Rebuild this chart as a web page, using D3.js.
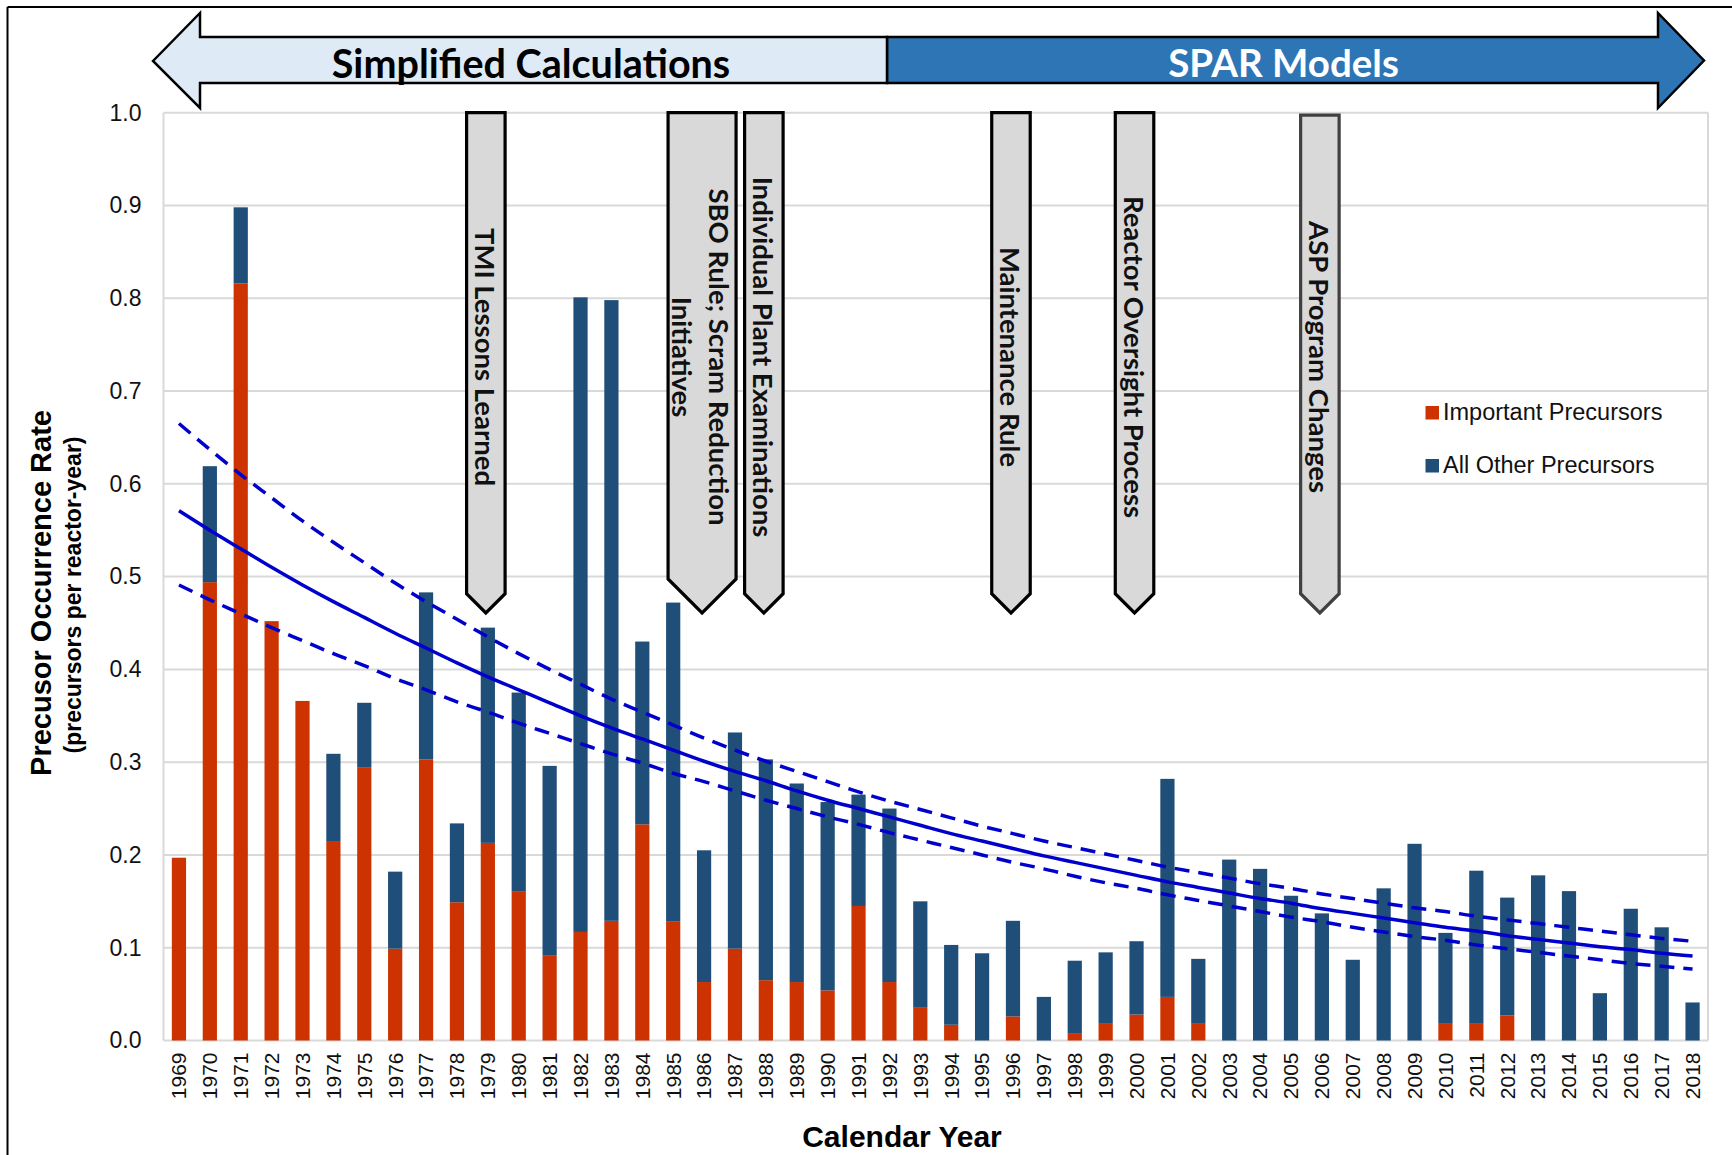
<!DOCTYPE html>
<html><head><meta charset="utf-8">
<script src="https://cdn.jsdelivr.net/npm/d3@7"></script>
<style>body{margin:0;background:#fff} svg{display:block}</style>
</head><body><svg id="chart" width="1732" height="1155"></svg>
<script>
// ---------------- data ----------------
const years = [1969,1970,1971,1972,1973,1974,1975,1976,1977,1978,1979,1980,1981,1982,1983,1984,1985,1986,1987,1988,1989,1990,1991,1992,1993,1994,1995,1996,1997,1998,1999,2000,2001,2002,2003,2004,2005,2006,2007,2008,2009,2010,2011,2012,2013,2014,2015,2016,2017,2018];
const importantPrecursors = [0.197,0.494,0.816,0.452,0.366,0.215,0.294,0.099,0.303,0.149,0.213,0.161,0.092,0.117,0.129,0.233,0.128,0.063,0.099,0.065,0.063,0.054,0.145,0.063,0.036,0.017,0,0.026,0,0.008,0.018,0.028,0.047,0.018,0,0,0,0,0,0,0,0.018,0.018,0.027,0,0,0,0,0,0];
const otherPrecursors = [0,0.125,0.082,0,0,0.094,0.070,0.083,0.180,0.085,0.232,0.214,0.204,0.684,0.669,0.197,0.344,0.142,0.233,0.238,0.214,0.203,0.120,0.187,0.114,0.086,0.094,0.103,0.047,0.078,0.077,0.079,0.235,0.070,0.195,0.185,0.156,0.137,0.087,0.164,0.212,0.098,0.165,0.127,0.178,0.161,0.051,0.142,0.122,0.041];
const trendFit = [0.571,0.550,0.530,0.510,0.491,0.473,0.456,0.439,0.423,0.407,0.392,0.378,0.364,0.350,0.337,0.325,0.313,0.301,0.290,0.280,0.269,0.259,0.250,0.241,0.232,0.223,0.215,0.207,0.199,0.192,0.185,0.178,0.171,0.165,0.159,0.153,0.148,0.142,0.137,0.132,0.127,0.122,0.118,0.113,0.109,0.105,0.101,0.098,0.094,0.091];
const trendUpper = [0.665,0.637,0.610,0.585,0.560,0.537,0.515,0.493,0.473,0.454,0.435,0.417,0.400,0.384,0.368,0.354,0.340,0.326,0.313,0.301,0.290,0.279,0.268,0.258,0.249,0.240,0.231,0.223,0.215,0.208,0.201,0.194,0.187,0.181,0.175,0.169,0.164,0.158,0.153,0.148,0.143,0.139,0.134,0.130,0.126,0.122,0.118,0.114,0.110,0.107];
const trendLower = [0.491,0.475,0.460,0.445,0.431,0.417,0.404,0.390,0.378,0.365,0.354,0.342,0.331,0.320,0.309,0.299,0.288,0.279,0.269,0.259,0.250,0.241,0.233,0.224,0.216,0.208,0.200,0.192,0.185,0.177,0.170,0.164,0.157,0.151,0.145,0.139,0.133,0.128,0.122,0.117,0.112,0.108,0.103,0.099,0.095,0.091,0.087,0.083,0.080,0.077];
const yTicks = [0,0.1,0.2,0.3,0.4,0.5,0.6,0.7,0.8,0.9,1.0];
const seriesNames = ["Important Precursors","All Other Precursors"];
const eventYears = [1979,1986,1988,1996,2000,2006];
const eventLabels = [["TMI Lessons Learned"],["SBO Rule; Scram Reduction","Initiatives"],["Individual Plant Examinations"],["Maintenance Rule"],["Reactor Oversight Process"],["ASP Program Changes"]];
const eraLabels = ["Simplified Calculations","SPAR Models"];

// ---------------- layout / style ----------------
const ARIAL = "'Liberation Sans', Arial, sans-serif";
const CAL = "Lato, 'Open Sans', sans-serif";
const colImp = "#cc3300", colOther = "#1f4e79", colTrend = "#0000cc", colGrid = "#d9d9d9";
const m = {left:163.5, right:1708, top:112.7, bottom:1040.5};
const svg = d3.select("#chart");

// frame
svg.append("line").attr("x1",7.5).attr("x2",1732).attr("y1",7).attr("y2",7).attr("stroke","#000").attr("stroke-width",2);
svg.append("line").attr("x1",7.5).attr("x2",7.5).attr("y1",7).attr("y2",1155).attr("stroke","#000").attr("stroke-width",2);

const x = d3.scaleBand().domain(years).range([m.left,m.right]).paddingInner(0.54).paddingOuter(0.27);
const y = d3.scaleLinear().domain([0,1]).range([m.bottom,m.top]);
const cx = yr => x(yr) + x.bandwidth()/2;

// grid
svg.append("g").selectAll("line").data(yTicks).join("line")
  .attr("x1",m.left).attr("x2",m.right).attr("y1",d=>y(d)).attr("y2",d=>y(d))
  .attr("stroke",colGrid).attr("stroke-width",2);
svg.append("line").attr("x1",m.left).attr("x2",m.left).attr("y1",m.top).attr("y2",m.bottom).attr("stroke",colGrid).attr("stroke-width",2);
svg.append("line").attr("x1",m.right).attr("x2",m.right).attr("y1",m.top).attr("y2",m.bottom).attr("stroke",colGrid).attr("stroke-width",2);

// y axis
const ya = svg.append("g").attr("transform",`translate(${m.left},0)`)
  .call(d3.axisLeft(y).tickValues(yTicks).tickFormat(d3.format(".1f")).tickSize(0).tickPadding(22));
ya.select(".domain").remove();
ya.selectAll("text").attr("font-family",ARIAL).attr("font-size",23).attr("fill","#111");

// x axis
const xa = svg.append("g").attr("transform",`translate(0,${m.bottom})`)
  .call(d3.axisBottom(x).tickSize(0).tickPadding(0));
xa.select(".domain").remove();
xa.selectAll("text").attr("font-family",ARIAL).attr("font-size",21).attr("fill","#111")
  .attr("transform","rotate(-90)").attr("text-anchor","end").attr("x",-12).attr("y",0).attr("dy","0.35em");

// bars
const rows = years.map((yr,i)=>({yr, imp:importantPrecursors[i], oth:otherPrecursors[i]}));
const gb = svg.append("g");
gb.selectAll("rect.imp").data(rows.filter(d=>d.imp>0)).join("rect").attr("class","imp")
  .attr("x",d=>x(d.yr)).attr("width",x.bandwidth())
  .attr("y",d=>y(d.imp)).attr("height",d=>y(0)-y(d.imp)).attr("fill",colImp);
gb.selectAll("rect.oth").data(rows.filter(d=>d.oth>0)).join("rect").attr("class","oth")
  .attr("x",d=>x(d.yr)).attr("width",x.bandwidth())
  .attr("y",d=>y(d.imp+d.oth)).attr("height",d=>y(d.imp)-y(d.imp+d.oth)).attr("fill",colOther);

// trend lines
const line = d3.line().x((d,i)=>cx(years[i])).y(d=>y(d)).curve(d3.curveMonotoneX);
svg.append("path").attr("d",line(trendUpper)).attr("fill","none").attr("stroke",colTrend).attr("stroke-width",3.5).attr("stroke-dasharray","15 9");
svg.append("path").attr("d",line(trendLower)).attr("fill","none").attr("stroke",colTrend).attr("stroke-width",3.5).attr("stroke-dasharray","15 9");
svg.append("path").attr("d",line(trendFit)).attr("fill","none").attr("stroke",colTrend).attr("stroke-width",3.5);

// event callouts
const tipY = 613, topY = m.top;
eventYears.forEach((yr,i)=>{
  const lines = eventLabels[i];
  const w = 38.5 + (lines.length-1)*29.5;
  const c = cx(yr) - 2;
  const last = i === eventYears.length-1;
  const t = last ? topY+2.5 : topY;
  const pts = [[c-w/2,t],[c+w/2,t],[c+w/2,tipY-w/2],[c,tipY],[c-w/2,tipY-w/2]];
  svg.append("polygon").attr("points",pts.map(p=>p.join(",")).join(" "))
    .attr("fill","#d9d9d9").attr("stroke", last ? "#404040" : "#000").attr("stroke-width",3.2).attr("stroke-linejoin","miter");
  const n = lines.length;
  lines.forEach((s,j)=>{
    const off = (n===1) ? 0 : (j===0 ? 17.5 : -19.5);
    svg.append("text").attr("transform",`translate(${c+off},357) rotate(90)`)
      .attr("text-anchor","middle").attr("dominant-baseline","central")
      .attr("font-family",CAL).attr("font-weight","bold").attr("font-size",27.5).attr("fill","#111").text(s);
  });
});

// era arrows
svg.append("polygon").attr("points","887,37 1658,37 1658,13 1704,60.5 1658,108 1658,83 887,83")
  .attr("fill","#2e75b6").attr("stroke","#000").attr("stroke-width",2.5);
svg.append("polygon").attr("points","153,61 200,13 200,37 887,37 887,83 200,83 200,108")
  .attr("fill","#deebf7").attr("stroke","#000").attr("stroke-width",2.5);
svg.append("text").attr("x",531).attr("y",62).attr("text-anchor","middle").attr("dominant-baseline","central")
  .attr("font-family",CAL).attr("font-weight","bold").attr("font-size",39.5).attr("fill","#000").text(eraLabels[0]);
svg.append("text").attr("x",1283.5).attr("y",62).attr("text-anchor","middle").attr("dominant-baseline","central")
  .attr("font-family",CAL).attr("font-weight","bold").attr("font-size",38.5).attr("fill","#fff").text(eraLabels[1]);

// legend
const lg = svg.append("g");
[colImp,colOther].forEach((col,i)=>{
  lg.append("rect").attr("x",1425.5).attr("y",406+i*53).attr("width",13.5).attr("height",13.5).attr("fill",col);
  lg.append("text").attr("x",1443).attr("y",420+i*53).attr("font-family",ARIAL).attr("font-size",23.5).attr("fill","#111").text(seriesNames[i]);
});

// axis titles
svg.append("text").attr("transform","translate(41,593) rotate(-90)").attr("text-anchor","middle").attr("dominant-baseline","central")
  .attr("font-family",ARIAL).attr("font-weight","bold").attr("font-size",29).attr("fill","#000").text("Precusor Occurrence Rate");
svg.append("text").attr("transform","translate(73,595) rotate(-90)").attr("text-anchor","middle").attr("dominant-baseline","central")
  .attr("font-family",ARIAL).attr("font-weight","bold").attr("font-size",23).attr("fill","#000").text("(precursors per reactor-year)");
svg.append("text").attr("x",902).attr("y",1136).attr("text-anchor","middle").attr("dominant-baseline","central")
  .attr("font-family",ARIAL).attr("font-weight","bold").attr("font-size",30).attr("fill","#000").text("Calendar Year");
</script></body></html>
